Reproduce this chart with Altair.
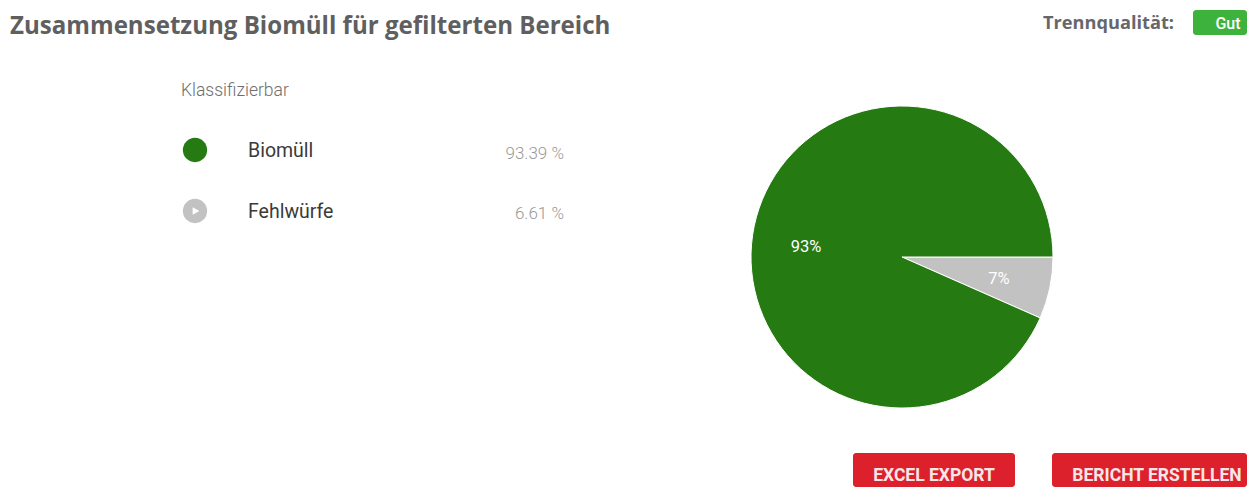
import math
import altair as alt
import pandas as pd

# Data
categories = ["Fehlwürfe", "Biomüll"]
shares = [6.61, 93.39]
slice_colors = ["#c2c2c2", "#267a12"]
title_text = ["Zusammensetzung Biomüll für gefilterten Bereich"]
quality_label = ["Trennqualität:"]
quality_value = ["Gut"]
group_label = ["Klassifizierbar"]
legend_names = ["Biomüll", "Fehlwürfe"]
legend_values = ["93.39 %", "6.61 %"]
pie_labels = ["93%", "7%"]
buttons = ["EXCEL EXPORT", "BERICHT ERSTELLEN"]

OX, OY = 8, 8  # page margin


def text(t, x, y, size, color, align="left", weight=400, font="Roboto"):
    m = alt.Chart(pd.DataFrame({"t": [t]})).mark_text(
        align=align, baseline="middle", fontSize=size, color=color,
        fontWeight=weight, font=font,
    )
    return m.encode(x=alt.value(x - OX), y=alt.value(y - OY), text="t:N")


def box(x0, x1, y0, y1, color, radius=3):
    return alt.Chart(pd.DataFrame({"a": [0]})).mark_rect(
        color=color, cornerRadius=radius
    ).encode(
        x=alt.value(x0 - OX), x2=alt.value(x1 - OX),
        y=alt.value(y0 - OY), y2=alt.value(y1 - OY),
    )


def dot(x, y, size, color, shape="circle"):
    return alt.Chart(pd.DataFrame({"a": [0]})).mark_point(
        filled=True, opacity=1, color=color, size=size, shape=shape
    ).encode(x=alt.value(x - OX), y=alt.value(y - OY))


pie_df = pd.DataFrame({"c": categories, "v": shares, "o": [0, 1]})
pie = alt.Chart(pie_df).mark_arc(
    outerRadius=151, stroke="white", strokeWidth=1
).encode(
    theta=alt.Theta("v:Q", stack=True, scale=alt.Scale(
        domain=[0, 100], range=[math.pi / 2, math.pi / 2 + 2 * math.pi])),
    order=alt.Order("o:Q"),
    color=alt.Color("c:N", legend=None,
                    scale=alt.Scale(domain=categories, range=slice_colors)),
    x=alt.value(902 - OX),
    y=alt.value(257 - OY),
)

layers = [
    text(title_text[0], 10, 27, 24.1, "#5f5f5f", weight=700, font="Open Sans"),
    text(quality_label[0], 1174, 24, 18.2, "#66666b", align="right", weight=700, font="Open Sans"),
    box(1193, 1247, 10, 35, "#3db33d"),
    text(quality_value[0], 1228, 24, 16, "#ffffff", align="center", weight=500),
    text(group_label[0], 181, 91, 17.5, "#6e6e6e", weight=300),
    dot(195, 150, 590, slice_colors[1]),
    text(legend_names[0], 248, 151, 19.5, "#3a3a3a"),
    text(legend_values[0], 564, 154, 17, "#999999", align="right", weight=300),
    dot(195, 211, 590, slice_colors[0]),
    dot(196, 211, 60, "#ffffff", shape="triangle-right"),
    text(legend_names[1], 248, 212, 19.5, "#3a3a3a"),
    text(legend_values[1], 564, 214, 17, "#999999", align="right", weight=300),
    pie,
    text(pie_labels[0], 806, 247, 16.5, "#ffffff", align="center"),
    text(pie_labels[1], 999, 279, 16.5, "#ffffff", align="center"),
    box(853, 1015, 453, 487, "#dc202c"),
    text(buttons[0], 934, 476, 17.5, "#f7e6e8", align="center", weight=700),
    box(1052, 1247, 453, 487, "#dc202c"),
    text(buttons[1], 1157, 476, 17.5, "#f7e6e8", align="center", weight=700),
]

chart = alt.layer(*layers).properties(
    width=1239, height=479, padding=0,
    autosize=alt.AutoSizeParams(type="none"),
    background="white",
).configure_view(strokeWidth=0)

chart.save("out.html", embed_options={"renderer": "svg", "actions": False})
